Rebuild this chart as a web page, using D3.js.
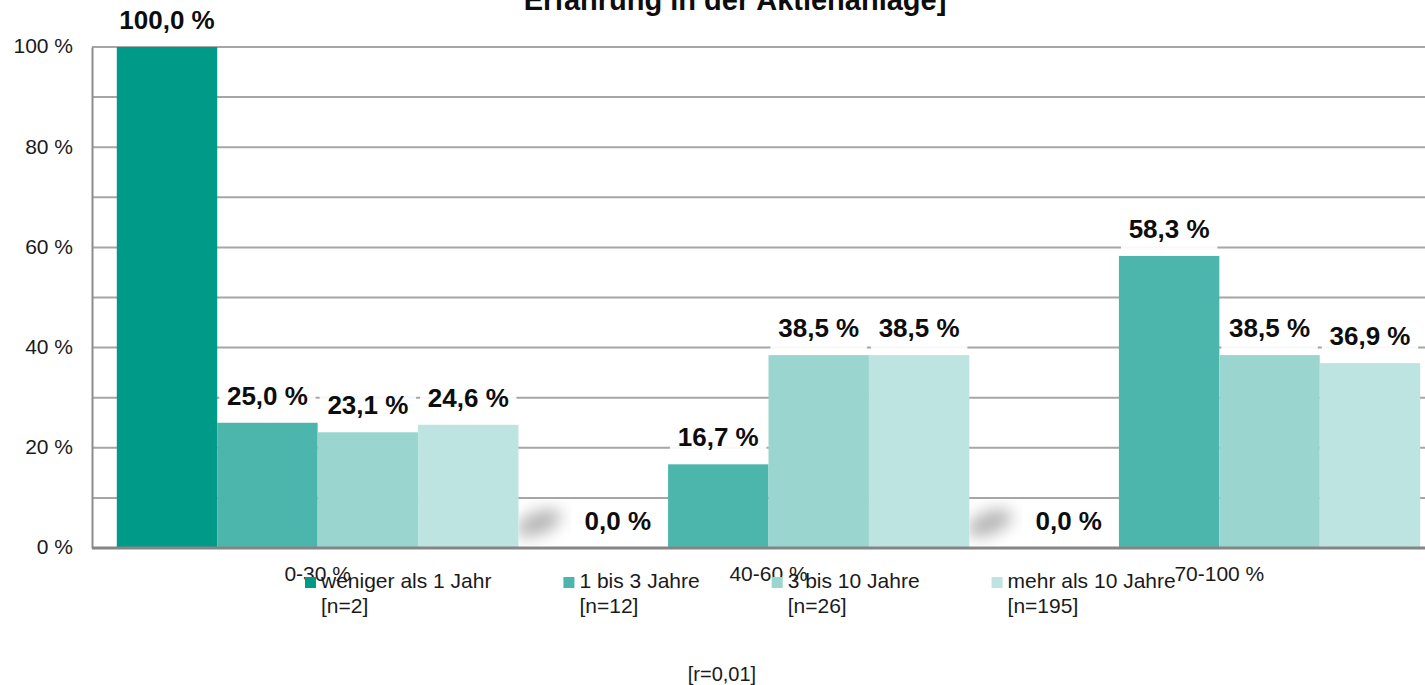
<!DOCTYPE html>
<html>
<head>
<meta charset="utf-8">
<script src="https://cdn.jsdelivr.net/npm/d3@7"></script>
<style>
  html, body { margin: 0; padding: 0; background: #ffffff; overflow: hidden; }
  svg { display: block; font-family: "Liberation Sans", Arial, sans-serif; }
</style>
</head>
<body>
<svg id="chart" width="1425" height="685"></svg>
<script>
// ---- data ----
const categories = ["0-30 %", "40-60 %", "70-100 %"];
const seriesNames = ["weniger als 1 Jahr", "1 bis 3 Jahre", "3 bis 10 Jahre", "mehr als 10 Jahre"];
const seriesN = ["[n=2]", "[n=12]", "[n=26]", "[n=195]"];
const valuesLess1 = [100.0, 0.0, 0.0];
const values1to3 = [25.0, 16.7, 58.3];
const values3to10 = [23.1, 38.5, 38.5];
const valuesMore10 = [24.6, 38.5, 36.9];
const yTicks = [0, 20, 40, 60, 80, 100];
const yGrid = [10, 20, 30, 40, 50, 60, 70, 80, 90, 100];
const titleText = "Erfahrung in der Aktienanlage]";
const footnote = "[r=0,01]";
const colors = ["#009a88", "#4db6ac", "#9ad6cf", "#bee4e1"];

const seriesValues = [valuesLess1, values1to3, values3to10, valuesMore10];

// ---- layout ----
const svg = d3.select("#chart");
const plotLeft = 92, plotBottom = 548, plotTop = 47;

const x0 = d3.scaleBand().domain(categories).range([plotLeft, 1445]).paddingInner(0.109).paddingOuter(0.055);
const x1 = d3.scaleBand().domain(d3.range(seriesNames.length)).range([0, x0.bandwidth()]);
const y = d3.scaleLinear().domain([0, 100]).range([plotBottom, plotTop]);
const fmt = v => v.toFixed(1).replace(".", ",") + " %";

const defs = svg.append("defs");
defs.append("filter").attr("id", "blur").attr("x", "-100%").attr("y", "-100%").attr("width", "300%").attr("height", "300%")
  .append("feGaussianBlur").attr("stdDeviation", 8);

// gridlines
svg.append("g").selectAll("line").data(yGrid).join("line")
  .attr("x1", plotLeft).attr("x2", 1425)
  .attr("y1", d => y(d)).attr("y2", d => y(d))
  .attr("stroke", "#a6a6a6").attr("stroke-width", 2);

// y axis
const yAxis = d3.axisLeft(y).tickValues(yTicks).tickSize(0).tickPadding(19).tickFormat(d => d + " %");
const ya = svg.append("g").attr("transform", `translate(${plotLeft},0)`).call(yAxis);
ya.select(".domain").attr("stroke", "#8c8c8c").attr("stroke-width", 2);
ya.selectAll("text").attr("font-size", 21).attr("fill", "#1a1a1a")
  .attr("font-family", "'Liberation Sans', Arial, sans-serif").attr("dy", "0.28em");

// bars
const flat = [];
categories.forEach((c, ci) => seriesValues.forEach((vals, si) => flat.push({ c, si, v: vals[ci] })));

// soft shadow boxes before zero-valued leading bars
const zeroGroups = categories.filter((c, ci) => seriesValues[0][ci] === 0);
const sh = svg.append("g");
zeroGroups.forEach((c, k) => {
  const xs = x0(c) - x0.step() * x0.paddingInner();
  const cid = "clipShadow" + k;
  defs.append("clipPath").attr("id", cid).append("rect")
    .attr("x", xs).attr("y", y(10) + 2).attr("width", x0(c) + 4 - xs).attr("height", y(0) - y(10) - 4);
  sh.append("rect").attr("x", xs).attr("y", y(10) + 2).attr("width", x0(c) + 4 - xs).attr("height", y(0) - y(10) - 4)
    .attr("fill", "#ffffff");
  sh.append("g").attr("clip-path", `url(#${cid})`)
    .append("ellipse").attr("cx", xs + 20).attr("cy", y(5)).attr("rx", 24).attr("ry", 11)
    .attr("transform", `rotate(-22, ${xs + 20}, ${y(5)})`)
    .attr("fill", "#b3b3b3").attr("filter", "url(#blur)");
});

svg.append("g").selectAll("rect").data(flat).join("rect")
  .attr("x", d => x0(d.c) + x1(d.si))
  .attr("y", d => y(d.v))
  .attr("width", x1.bandwidth())
  .attr("height", d => y(0) - y(d.v))
  .attr("fill", d => colors[d.si]);

// bottom axis line
svg.append("line").attr("x1", plotLeft).attr("x2", 1425).attr("y1", y(0)).attr("y2", y(0))
  .attr("stroke", "#858585").attr("stroke-width", 3);

// label backgrounds and labels
const lab = svg.append("g");
lab.selectAll("rect").data(flat).join("rect")
  .attr("x", d => x0(d.c) + x1(d.si) + 2)
  .attr("y", d => y(d.v) - 36)
  .attr("width", x1.bandwidth() - 4)
  .attr("height", 34)
  .attr("fill", "#ffffff").attr("opacity", d => d.v === 0 ? 0 : 0.92);
lab.selectAll("text").data(flat).join("text")
  .attr("x", d => x0(d.c) + x1(d.si) + x1.bandwidth() / 2)
  .attr("y", d => y(d.v) - 18)
  .attr("text-anchor", "middle")
  .attr("font-size", 26).attr("font-weight", "bold").attr("fill", "#0d0d0d")
  .text(d => fmt(d.v));

// category labels
svg.append("g").selectAll("text").data(categories).join("text")
  .attr("x", c => x0(c) + x0.bandwidth() / 2)
  .attr("y", plotBottom + 33)
  .attr("text-anchor", "middle").attr("font-size", 21).attr("fill", "#1a1a1a")
  .text(c => c);

// legend
const leg = svg.append("g");
let lx = 305;
seriesNames.forEach((name, i) => {
  const g = leg.append("g").attr("transform", `translate(${lx},0)`);
  g.append("rect").attr("x", 0).attr("y", 577).attr("width", 11).attr("height", 11).attr("fill", colors[i]);
  const t1 = g.append("text").attr("x", 16).attr("y", 588).attr("font-size", 21).attr("fill", "#1a1a1a").text(name);
  const t2 = g.append("text").attr("x", 16).attr("y", 613).attr("font-size", 21).attr("fill", "#1a1a1a").text(seriesN[i]);
  const w = Math.max(t1.node().getComputedTextLength(), t2.node().getComputedTextLength());
  lx += 16 + w + 72;
});

// title (only the visible lower line)
svg.append("text").attr("x", 735).attr("y", 10).attr("text-anchor", "middle")
  .attr("font-size", 29).attr("font-weight", "bold").attr("fill", "#0d0d0d").text(titleText);

// footnote
svg.append("text").attr("x", 722).attr("y", 681).attr("text-anchor", "middle")
  .attr("font-size", 20).attr("fill", "#1a1a1a").text(footnote);
</script>
</body>
</html>
